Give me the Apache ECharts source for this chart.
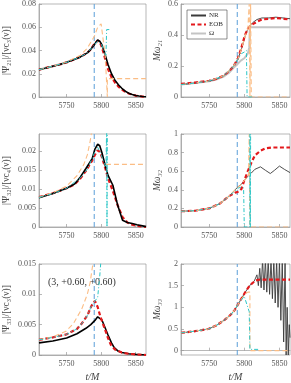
<!DOCTYPE html>
<html><head><meta charset="utf-8">
<script src="https://cdn.jsdelivr.net/npm/echarts@6/dist/echarts.min.js"></script>
<style>html,body{margin:0;padding:0;background:#fff}#c{width:291px;height:383px}</style>
</head><body><div id="c"></div>
<script>
// ---------- data ----------
const T_MERGER = 5790;
const xTicks = [5750, 5800, 5850];
const yTicks1 = [0, 0.02, 0.04, 0.06, 0.08];
const yTicks2 = [0, 0.2, 0.4, 0.6];
const yTicks3 = [0, 0.005, 0.01, 0.015, 0.02];
const yTicks4 = [0, 0.2, 0.4, 0.6, 0.8, 1];
const yTicks5 = [0, 0.005, 0.01, 0.015];
const yTicks6 = [0, 0.5, 1, 1.5, 2];
const annotation = "(3, +0.60, +0.60)";

// panel 1: |Psi21|
const p1_nr_t = [5710,5720,5730,5740,5750,5760,5770,5780,5785,5790,5795,5798,5801,5804,5807,5810,5815,5820,5825,5830,5835,5840,5845,5850,5855,5860,5865];
const p1_nr_y = [0.0235,0.025,0.0265,0.028,0.0298,0.032,0.0345,0.038,0.041,0.045,0.049,0.048,0.045,0.040,0.034,0.028,0.020,0.0145,0.0105,0.0075,0.005,0.0033,0.0021,0.0013,0.0008,0.0004,0.0002];
const p1_eob_y = [0.0235,0.025,0.0265,0.028,0.0298,0.032,0.0345,0.038,0.041,0.0455,0.0485,0.0475,0.043,0.037,0.030,0.024,0.017,0.0125,0.009,0.0065,0.0045,0.003,0.002,0.0012,0.0007,0.0004,0.0002];
const p1_or_t = [5710,5730,5750,5770,5780,5790,5795,5800,5802,5806,5809,5809,5865];
const p1_or_y = [0.0235,0.0265,0.030,0.036,0.042,0.052,0.060,0.063,0.062,0.035,0.0,0.0158,0.0158];
const p1_cy_t = [5710,5730,5750,5770,5780,5790,5795,5800,5804,5807,5808,5814];
const p1_cy_y = [0.0235,0.0265,0.0298,0.0345,0.038,0.045,0.048,0.046,0.040,0.036,0.058,0.058];

// panel 2: M omega21
const p2_nr_t = [5710,5730,5750,5760,5770,5778,5785,5791,5796,5801,5805,5808,5812,5818,5825,5835,5845,5855,5865];
const p2_nr_y = [0.08,0.09,0.103,0.115,0.135,0.165,0.2,0.245,0.31,0.39,0.44,0.46,0.48,0.50,0.51,0.51,0.515,0.51,0.505];
const p2_eob_y = [0.085,0.093,0.105,0.117,0.136,0.165,0.2,0.25,0.32,0.40,0.44,0.455,0.47,0.485,0.50,0.505,0.51,0.505,0.50];
const p2_om_t = [5710,5730,5750,5760,5770,5778,5785,5790,5795,5800,5805,5807,5808,5865];
const p2_om_y = [0.08,0.09,0.102,0.113,0.13,0.155,0.19,0.21,0.235,0.25,0.28,0.32,0.45,0.45];
const p2_cy_t = [5710,5730,5750,5770,5785,5791,5796,5800,5803,5804,5812];
const p2_cy_y = [0.08,0.09,0.103,0.135,0.2,0.245,0.28,0.29,0.30,0.0,0.0];
const p2_or_t = [5710,5730,5750,5770,5785,5791,5796,5801,5805,5807,5808,5809,5810,5865];
const p2_or_y = [0.08,0.09,0.103,0.135,0.2,0.245,0.31,0.39,0.44,0.6,0.0,0.6,0.0,0.0];

// panel 3: |Psi32|
const p3_nr_t = [5710,5730,5750,5762,5770,5778,5787,5791,5795,5798,5801,5806,5810,5817,5824,5831,5838,5845,5852,5860,5865];
const p3_nr_y = [0.0077,0.0088,0.0102,0.0114,0.0132,0.0154,0.018,0.0205,0.0218,0.0214,0.0197,0.0162,0.0136,0.011,0.0057,0.0018,0.0012,0.0009,0.0006,0.0003,0.0001];
const p3_eob_y = [0.0079,0.0089,0.0102,0.0113,0.0128,0.0148,0.0175,0.019,0.0202,0.0198,0.0185,0.0155,0.0128,0.0095,0.0057,0.0026,0.0012,0.0006,0.0003,0.0001,0];
const p3_or_t = [5710,5730,5750,5765,5775,5780,5784,5787,5807,5807,5865];
const p3_or_y = [0.0078,0.009,0.0108,0.0135,0.0165,0.019,0.0225,0.026,null,0.0165,0.0165];
const p3_cy_t = [5710,5730,5750,5770,5780,5791,5795,5800,5804,5807,5808,5808.5,5809];
const p3_cy_y = [0.0078,0.0088,0.0102,0.013,0.0152,0.0198,0.021,0.019,0.017,0.016,0.026,0.0,0.026];

// panel 4: M omega32
const p4_nr_t = [5710,5730,5750,5765,5778,5787,5792,5796,5800,5805,5810,5815,5823,5830,5837,5843,5850,5857,5865];
const p4_nr_y = [0.17,0.175,0.2,0.25,0.33,0.40,0.44,0.46,0.5,0.545,0.58,0.62,0.647,0.61,0.575,0.61,0.655,0.62,0.585];
const p4_eob_t = [5710,5730,5750,5765,5778,5787,5792,5796,5800,5805,5810,5815,5823,5830,5840,5850,5865];
const p4_eob_y = [0.17,0.175,0.2,0.25,0.33,0.37,0.38,0.41,0.5,0.6,0.69,0.77,0.82,0.845,0.855,0.855,0.855];
const p4_cy_t = [5710,5730,5750,5765,5778,5787,5792,5796,5799,5800,5808,5808,5808.6,5809];
const p4_cy_y = [0.17,0.175,0.2,0.25,0.33,0.39,0.42,0.43,0.42,0.0,0.0,1.0,0.0,1.0];
const p4_or_t = [5710,5730,5750,5765,5778,5787,5796,5800,5806,5807,5808,5865];
const p4_or_y = [0.17,0.175,0.2,0.25,0.33,0.40,0.46,0.5,0.55,1.0,0.0,0.0];

// panel 5: |Psi33|
const p5_nr_t = [5710,5730,5750,5765,5778,5785,5791,5795,5801,5805,5810,5815,5819,5825,5830,5840,5850,5865];
const p5_nr_y = [0.002,0.0023,0.0028,0.0035,0.0044,0.005,0.0057,0.0063,0.0058,0.0047,0.0033,0.002,0.0012,0.0006,0.0004,0.0002,0.0001,0];
const p5_eob_t = [5710,5730,5750,5765,5772,5780,5786,5791,5795,5799,5805,5810,5814,5820,5830,5840,5850,5865];
const p5_eob_y = [0.0025,0.0029,0.0034,0.0043,0.0052,0.0065,0.0081,0.0089,0.0079,0.0063,0.0044,0.0028,0.0017,0.0009,0.0004,0.0002,0.0001,0];
const p5_cy_t = [5710,5730,5750,5765,5772,5780,5786,5791,5795,5798,5800];
const p5_cy_y = [0.0025,0.0029,0.0034,0.0043,0.0052,0.0065,0.0081,0.0089,0.0095,0.013,0.016];
const p5_or_t = [5710,5730,5749,5760,5772,5780,5784,5788,5790];
const p5_or_y = [0.0025,0.003,0.0039,0.0052,0.0076,0.0100,0.0119,0.015,0.017];

// panel 6: M omega33
const p6_eob_t = [5710,5730,5749,5760,5772,5780,5786,5793,5801,5808,5816,5822,5830,5865];
const p6_eob_y = [0.41,0.45,0.5,0.58,0.71,0.82,0.93,1.12,1.34,1.51,1.62,1.64,1.64,1.64];
const p6_nr_t = [5710,5730,5749,5760,5772,5780,5786,5793,5801,5808,5814,5816,5818,5820,5822,5824,5826,5828,5830,5832,5834,5836,5838,5840,5842,5844,5846,5848,5850,5852,5854,5856,5858,5859.5,5861,5862.5,5864,5865];
const p6_nr_y = [0.41,0.45,0.5,0.58,0.71,0.82,0.93,1.12,1.34,1.51,1.6,1.62,1.75,1.5,1.9,1.45,2.1,1.4,2.1,1.35,2.1,1.3,2.1,1.2,2.1,1.1,2.1,1.0,2.1,0.7,2.1,0.2,2.1,-0.1,1.0,-0.1,0.6,0.3];
const p6_cy_t = [5710,5730,5749,5760,5772,5780,5786,5793,5800,5805,5807,5808,5822];
const p6_cy_y = [0.41,0.45,0.5,0.58,0.71,0.82,0.93,1.12,1.25,1.0,0.9,0.03,0.03];
const p6_or_t = [5710,5730,5749,5760,5772,5780,5786,5793,5801,5805,5808,5808,5865];
const p6_or_y = [0.41,0.45,0.5,0.58,0.71,0.82,0.93,1.12,1.3,1.35,1.35,0.0,0.0];

// ---------- chart ----------
const SERIF = 'Liberation Serif';
const C_RED = '#e3191c', C_OR = '#fbbd85', C_CY = '#2cc6c6', C_BL = '#5b9fd8', C_GR = '#c4c4c4';
const pairs = (t, y) => t.map((v, i) => [v, y[i] === null ? null : y[i]]);

const grids = [
  {left: 36, top: 4, width: 110, height: 93},
  {left: 181, top: 4, width: 109, height: 93},
  {left: 36, top: 134, width: 110, height: 93},
  {left: 181, top: 134, width: 109, height: 93},
  {left: 36, top: 264, width: 110, height: 93},
  {left: 181, top: 264, width: 109, height: 93}
].map(g => Object.assign(g, {show: true, borderColor: '#999', borderWidth: 0.7, backgroundColor: 'transparent'}));

const yDefs = [
  {min: 0, max: 0.08, ticks: yTicks1, name: '|Ψ₂₁|/[νc₃(ν)]', gap: 28},
  {min: 0, max: 0.6, ticks: yTicks2, name: 'Mω₂₁', gap: 19},
  {min: 0, max: 0.0245, ticks: yTicks3, name: '|Ψ₃₂|/[νc₄(ν)]', gap: 28},
  {min: 0, max: 1, ticks: yTicks4, name: 'Mω₃₂', gap: 19},
  {min: 0, max: 0.015, ticks: yTicks5, name: '|Ψ₃₃|/[νc₃(ν)]', gap: 28},
  {min: -0.1, max: 2, ticks: yTicks6, name: 'Mω₃₃', gap: 19}
];

const labelStyle = {fontFamily: SERIF, fontSize: 8, color: '#555'};
const xAxes = grids.map((g, i) => ({
  type: 'value', gridIndex: i, min: 5710, max: 5865,
  axisLine: {show: true, lineStyle: {color: '#999', width: 0.7}},
  axisTick: {show: true, inside: true, length: 3, customValues: xTicks, lineStyle: {color: '#999', width: 0.7}},
  axisLabel: Object.assign({customValues: xTicks, margin: 5, formatter: v => String(v)}, labelStyle),
  splitLine: {show: false},
  name: i >= 4 ? 't/M' : '', nameLocation: 'middle', nameGap: 17,
  nameTextStyle: {fontFamily: SERIF, fontStyle: 'italic', fontSize: 10, color: '#444'}
}));
const yAxes = yDefs.map((d, i) => ({
  type: 'value', gridIndex: i, min: d.min, max: d.max,
  axisLine: {show: true, lineStyle: {color: '#999', width: 0.7}},
  axisTick: {show: true, inside: true, length: 3, customValues: d.ticks, lineStyle: {color: '#999', width: 0.7}},
  axisLabel: Object.assign({customValues: d.ticks, margin: 3, formatter: v => String(+v.toFixed(4))}, labelStyle),
  splitLine: {show: false},
  name: d.name, nameLocation: 'middle', nameRotate: 90, nameGap: d.gap,
  nameTextStyle: {fontFamily: SERIF, fontStyle: (i % 2) ? 'italic' : 'normal', fontSize: 9.5, color: '#444'}
}));

function ln(name, gi, t, y, color, width, type, z) {
  return {
    name: name, type: 'line', xAxisIndex: gi, yAxisIndex: gi, data: pairs(t, y),
    symbol: 'none', showSymbol: false, clip: true, connectNulls: false, animation: false, z: z || 2,
    lineStyle: {color: color, width: width, type: type || 'solid'}, itemStyle: {color: color}
  };
}
// vertical merger line, spanning the panel's own y-limits
function vline(gi) {
  return ln('merger', gi, [T_MERGER, T_MERGER], [yDefs[gi].min, yDefs[gi].max], C_BL, 1, [5, 3], 1);
}
const DASH = [5, 3], RDASH = [4, 2.5], DOT = [4, 2, 1, 2];
const series = [
  // panel 2 first so the legend picks these styles
  ln('Ω', 1, p2_om_t, p2_om_y, C_GR, 2, 'solid', 2),
  ln('NR', 1, p2_nr_t, p2_nr_y, '#3a3a3a', 0.9, 'solid', 3),
  ln('EOB', 1, p2_nr_t, p2_eob_y, C_RED, 2.2, RDASH, 4),
  ln('orange', 1, p2_or_t, p2_or_y, C_OR, 1.1, DASH, 5),
  ln('cyan', 1, p2_cy_t, p2_cy_y, C_CY, 1, DOT, 6),
  vline(1),
  // panel 1
  ln('EOB', 0, p1_nr_t, p1_eob_y, C_RED, 2.2, RDASH, 3),
  ln('NR', 0, p1_nr_t, p1_nr_y, '#000', 1.6, 'solid', 4),
  ln('orange', 0, p1_or_t, p1_or_y, C_OR, 1.1, DASH, 5),
  ln('cyan', 0, p1_cy_t, p1_cy_y, C_CY, 1, DOT, 6),
  vline(0),
  // panel 3
  ln('EOB', 2, p3_nr_t, p3_eob_y, C_RED, 2.2, RDASH, 3),
  ln('NR', 2, p3_nr_t, p3_nr_y, '#000', 1.6, 'solid', 4),
  ln('orange', 2, p3_or_t, p3_or_y, C_OR, 1.1, DASH, 5),
  ln('cyan', 2, p3_cy_t, p3_cy_y, C_CY, 1, DOT, 6),
  vline(2),
  // panel 4
  ln('NR', 3, p4_nr_t, p4_nr_y, '#3a3a3a', 0.9, 'solid', 3),
  ln('EOB', 3, p4_eob_t, p4_eob_y, C_RED, 2.2, RDASH, 4),
  ln('orange', 3, p4_or_t, p4_or_y, C_OR, 1.1, DASH, 5),
  ln('cyan', 3, p4_cy_t, p4_cy_y, C_CY, 1, DOT, 6),
  vline(3),
  // panel 5
  ln('NR', 4, p5_nr_t, p5_nr_y, '#000', 1.6, 'solid', 3),
  ln('EOB', 4, p5_eob_t, p5_eob_y, C_RED, 2.2, RDASH, 4),
  ln('orange', 4, p5_or_t, p5_or_y, C_OR, 1.1, DASH, 5),
  ln('cyan', 4, p5_cy_t, p5_cy_y, C_CY, 1, DOT, 6),
  vline(4),
  // panel 6
  ln('NR', 5, p6_nr_t, p6_nr_y, '#3a3a3a', 0.9, 'solid', 3),
  ln('EOB', 5, p6_eob_t, p6_eob_y, C_RED, 2.2, RDASH, 4),
  ln('orange', 5, p6_or_t, p6_or_y, C_OR, 1.1, DASH, 5),
  ln('cyan', 5, p6_cy_t, p6_cy_y, C_CY, 1, DOT, 6),
  vline(5)
];

const chart = echarts.init(document.getElementById('c'), null, {renderer: 'canvas'});
chart.setOption({
  animation: false,
  backgroundColor: '#fff',
  grid: grids, xAxis: xAxes, yAxis: yAxes, series: series,
  legend: {
    data: ['NR', 'EOB', 'Ω'], orient: 'vertical', left: 187, top: 10,
    itemWidth: 15, itemHeight: 7, itemGap: 2, padding: [2, 4, 2, 3],
    borderColor: '#444', borderWidth: 0.6, backgroundColor: '#fff',
    selectedMode: false,
    itemStyle: {opacity: 0},
    textStyle: {fontFamily: SERIF, fontSize: 7, color: '#333', padding: [0, 0, 0, -2]}
  },
  graphic: [{
    type: 'text', left: 48, top: 277, silent: true,
    style: {text: annotation, font: '10px "Liberation Serif"', fill: '#333'}
  }]
});
</script></body></html>
